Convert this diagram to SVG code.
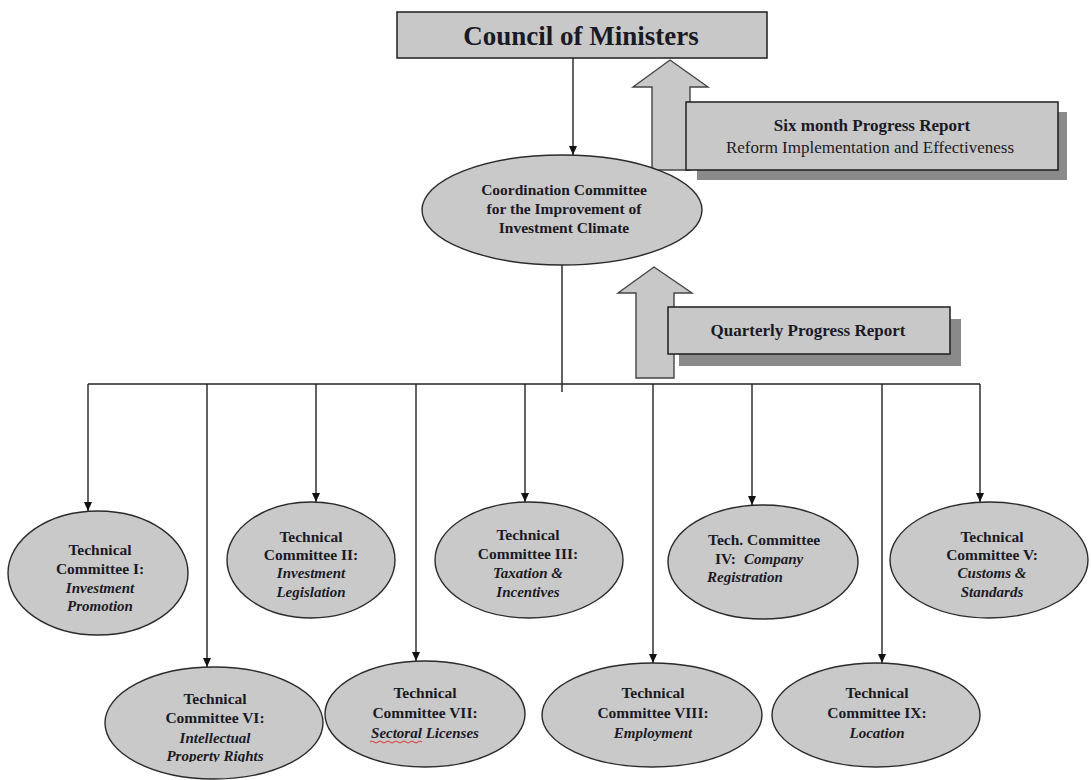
<svg xmlns="http://www.w3.org/2000/svg" width="1091" height="780" viewBox="0 0 1091 780">
<style>
.bg{fill:#ffffff}
.box{fill:#c8c8c8;stroke:#1e1e1e;stroke-width:1.5}
.shadow{fill:#8a8a8a}
.ell{fill:#c9c9c9;stroke:#2a2a2a;stroke-width:1.4}
.big{fill:#c8c8c8;stroke:#444;stroke-width:1.4}
.conn{stroke:#222;stroke-width:1.4;fill:none}
text{font-family:"Liberation Serif","Times New Roman",serif;fill:#1a1a26;text-anchor:middle}
.t{font-size:15.5px;font-weight:bold}
.i{font-size:15px;font-weight:bold;font-style:italic}
.title{font-size:27px;font-weight:bold}
.rb{font-size:17px;font-weight:bold}
.rn{font-size:17px}
</style>
<defs>
<marker id="ah" markerWidth="10" markerHeight="10" refX="9" refY="5" orient="auto" markerUnits="userSpaceOnUse">
<path d="M0,1 L9,5 L0,9 Z" fill="#111"/>
</marker>
<clipPath id="clip6"><rect x="100" y="660" width="230" height="102"/></clipPath>
</defs>
<rect class="bg" x="0" y="0" width="1091" height="780"/>

<g id="council">
<rect class="box" x="397" y="12" width="370" height="46"/>
<text class="title" x="581" y="45">Council of Ministers</text>
</g>

<g id="report-arrows">
<polygon class="big" points="652,170 652,87 633,87 670,60 708,87 690,87 690,170"/>
<polygon class="big" points="636,378 636,293 618,293 654,267 692,293 674,293 674,378"/>
</g>

<g id="six-month-report">
<rect class="shadow" x="697" y="112" width="370" height="68"/>
<rect class="box" x="686" y="102" width="372" height="68"/>
<text class="rb" x="872" y="131">Six month Progress Report</text>
<text class="rn" x="870" y="153">Reform Implementation and Effectiveness</text>
</g>

<g id="quarterly-report">
<rect class="shadow" x="679" y="319" width="282" height="47"/>
<rect class="box" x="668" y="307" width="282" height="47"/>
<text class="rb" x="808" y="336">Quarterly Progress Report</text>
</g>

<g id="connectors">
<line class="conn" x1="573" y1="58" x2="573" y2="155" marker-end="url(#ah)"/>
<line class="conn" x1="562" y1="265" x2="562" y2="392"/>
<line class="conn" x1="88" y1="384" x2="980" y2="384"/>
<line class="conn" x1="88" y1="384" x2="88" y2="511" marker-end="url(#ah)"/>
<line class="conn" x1="207" y1="384" x2="207" y2="667" marker-end="url(#ah)"/>
<line class="conn" x1="316" y1="384" x2="316" y2="502" marker-end="url(#ah)"/>
<line class="conn" x1="416" y1="384" x2="416" y2="661" marker-end="url(#ah)"/>
<line class="conn" x1="525" y1="384" x2="525" y2="502" marker-end="url(#ah)"/>
<line class="conn" x1="653" y1="384" x2="653" y2="663" marker-end="url(#ah)"/>
<line class="conn" x1="752" y1="384" x2="752" y2="505" marker-end="url(#ah)"/>
<line class="conn" x1="882" y1="384" x2="882" y2="663" marker-end="url(#ah)"/>
<line class="conn" x1="980" y1="384" x2="980" y2="502" marker-end="url(#ah)"/>
</g>

<g id="coordination">
<ellipse class="ell" cx="562" cy="210" rx="140" ry="55"/>
<text class="t" x="564" y="195">Coordination Committee</text>
<text class="t" x="564" y="214">for the Improvement of</text>
<text class="t" x="564" y="233">Investment Climate</text>
</g>

<g id="tc1">
<ellipse class="ell" cx="98" cy="573" rx="90" ry="62"/>
<text class="t" x="100" y="555">Technical</text>
<text class="t" x="100" y="574">Committee I:</text>
<text class="i" x="100" y="593">Investment</text>
<text class="i" x="100" y="611">Promotion</text>
</g>

<g id="tc2">
<ellipse class="ell" cx="311" cy="560" rx="84" ry="58"/>
<text class="t" x="311" y="542">Technical</text>
<text class="t" x="311" y="560">Committee II:</text>
<text class="i" x="311" y="578">Investment</text>
<text class="i" x="311" y="597">Legislation</text>
</g>

<g id="tc3">
<ellipse class="ell" cx="529" cy="560" rx="94" ry="58"/>
<text class="t" x="528" y="540">Technical</text>
<text class="t" x="528" y="559">Committee III:</text>
<text class="i" x="528" y="578">Taxation &amp;</text>
<text class="i" x="528" y="597">Incentives</text>
</g>

<g id="tc4">
<ellipse class="ell" cx="763" cy="562" rx="95" ry="57"/>
<text class="t" x="708" y="545" style="text-anchor:start">Tech. Committee</text>
<text class="t" x="715" y="564" style="text-anchor:start">IV:<tspan dx="8" class="i">Company</tspan></text>
<text class="i" x="707" y="582" style="text-anchor:start">Registration</text>
</g>

<g id="tc5">
<ellipse class="ell" cx="989" cy="560" rx="99" ry="58"/>
<text class="t" x="992" y="542">Technical</text>
<text class="t" x="992" y="560">Committee V:</text>
<text class="i" x="992" y="578">Customs &amp;</text>
<text class="i" x="992" y="597">Standards</text>
</g>

<g id="tc6">
<ellipse class="ell" cx="214" cy="723" rx="109" ry="56"/>
<text class="t" x="215" y="704">Technical</text>
<text class="t" x="215" y="723">Committee VI:</text>
<text class="i" x="215" y="743">Intellectual</text>
<text class="i" x="215" y="761" clip-path="url(#clip6)">Property Rights</text>
</g>

<g id="tc7">
<ellipse class="ell" cx="425" cy="714" rx="100" ry="53"/>
<text class="t" x="425" y="698">Technical</text>
<text class="t" x="425" y="718">Committee VII:</text>
<text class="i" x="425" y="738">Sectoral Licenses</text>
<path d="M370,742 q2,-2 4,0 t4,0 t4,0 t4,0 t4,0 t4,0 t4,0 t4,0 t4,0 t4,0 t4,0 t4,0 t4,0" fill="none" stroke="#e02020" stroke-width="0.9"/>
</g>

<g id="tc8">
<ellipse class="ell" cx="652" cy="715" rx="110" ry="52"/>
<text class="t" x="653" y="698">Technical</text>
<text class="t" x="653" y="718">Committee VIII:</text>
<text class="i" x="653" y="738">Employment</text>
</g>

<g id="tc9">
<ellipse class="ell" cx="876" cy="715" rx="104" ry="52"/>
<text class="t" x="877" y="698">Technical</text>
<text class="t" x="877" y="718">Committee IX:</text>
<text class="i" x="877" y="738">Location</text>
</g>
</svg>
